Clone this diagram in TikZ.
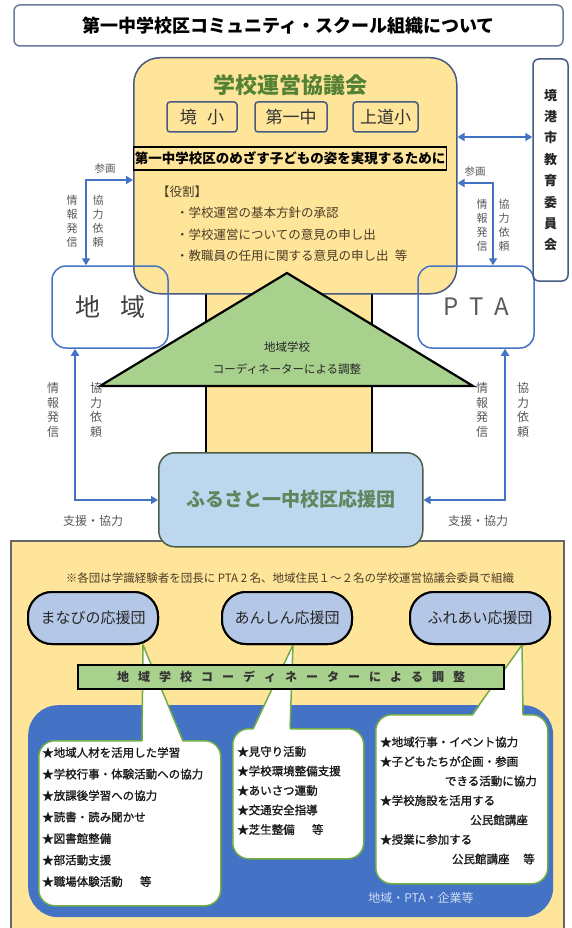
\documentclass[tikz,border=0pt]{standalone}
\usepackage{fontspec}
\setmainfont{Noto Sans CJK JP}
\newfontfamily\semib[FakeBold=1.2]{Noto Sans CJK JP}
\usetikzlibrary{arrows.meta,calc}
\definecolor{yel}{RGB}{255,229,153}
\definecolor{blueA}{RGB}{68,114,196}
\definecolor{frameC}{RGB}{70,90,130}
\definecolor{triG}{RGB}{169,209,142}
\definecolor{ltblue}{RGB}{189,215,238}
\definecolor{pillC}{RGB}{180,199,231}
\definecolor{bubG}{RGB}{112,173,71}
\definecolor{titleG}{RGB}{84,130,53}
\definecolor{ouenT}{RGB}{95,135,95}
\definecolor{ouenB}{RGB}{75,95,70}
\definecolor{brownT}{RGB}{75,60,40}
\definecolor{grayT}{RGB}{90,90,90}
\definecolor{paleT}{RGB}{205,220,245}
\newcommand{\fsz}[2]{\fontsize{#1}{#2}\selectfont}
\newcommand{\gsp}{\hspace{9pt}}
\begin{document}
\begin{tikzpicture}[x=1pt,y=-1pt,
  arr/.style={draw=blueA,line width=2.2pt,{Triangle[length=7pt,width=8pt]}-{Triangle[length=7pt,width=8pt]}},
  lbl/.style={text=grayT,font=\fsz{10.5}{13},inner sep=0pt},
  vlbl/.style={text=grayT,font=\fsz{11}{14},align=center,inner sep=0pt},
  vlblb/.style={text=grayT,font=\fsz{12}{14.5},align=center,inner sep=0pt},
  smallbox/.style={draw=frameC,line width=1.5pt,rounded corners=3pt,minimum height=30pt,font=\fsz{17}{18},text=black!80},
  bubble/.style={draw=bubG,line width=1.5pt,fill=white,rounded corners=16pt},
  pill/.style={draw=black,line width=2pt,fill=pillC,rounded corners=24pt,minimum height=52pt,font=\fsz{15}{16},text=black!85},
  btxt/.style={font=\semib\fsz{11.5}{21.5},align=left,inner sep=0pt,text=black!90},
  bline/.style={font=\semib\fsz{11.5}{13},inner sep=0pt,text=black!90},
  role/.style={anchor=west,font=\fsz{12.5}{14},text=brownT,inner sep=0pt}
]
\useasboundingbox (0,0) rectangle (571,928);
\fill[white] (0,0) rectangle (571,928);

% title
\node[draw=frameC!80,line width=1.5pt,rounded corners=6pt,minimum width=549pt,minimum height=41pt,font=\fsz{18}{20}\bfseries] (title) at (288.5,25.5) {第一中学校区コミュニティ・スクール組織について};

% lower yellow region
\node[fill=yel,draw=black!60,line width=1.5pt,minimum width=553pt,minimum height=395pt,anchor=north west] (lower) at (10,540) {};

% column behind triangle
\node[fill=yel,minimum width=166pt,minimum height=162pt,inner sep=0pt,anchor=north] (col) at (289,291) {};
\draw[line width=1.5pt] (col.north west) -- (col.south west);
\draw[line width=1.5pt] (col.north east) -- (col.south east);

% council
\node[draw=frameC,line width=1.5pt,fill=yel,rounded corners=26pt,minimum width=323pt,minimum height=236pt,anchor=north west] (council) at (133,57) {};
\node[text=titleG,font=\fsz{22}{24}\bfseries] (kyogikai) at (290,85) {学校運営協議会};
\node[smallbox,minimum width=70pt] (sakai) at (202,117) {境\hspace{0.6em}小};
\node[smallbox,minimum width=72pt] (daiichi) at (291,117) {第一中};
\node[smallbox,minimum width=65pt] (agari) at (385.5,117) {上道小};
\node[draw=black,line width=1.2pt,minimum width=313pt,minimum height=23pt,inner sep=1pt,anchor=west,font=\fsz{13.5}{15}\bfseries] (strip) at (133,158.5) {第一中学校区のめざす子どもの姿を実現するために};
\node[role] (yaku) at (157,192) {【役割】};
\node[role] (r1) at (176,213) {・学校運営の基本方針の承認};
\node[role] (r2) at (176,235) {・学校運営についての意見の申し出};
\node[role] (r3) at (176,256) {・教職員の任用に関する意見の申し出\hspace{0.5em}等};

% side boxes
\node[draw=blueA,line width=1.5pt,rounded corners=14pt,minimum width=116pt,minimum height=82pt,font=\fsz{25}{26},text=black!75] (chiiki) at (110,307) {地\hspace{0.8em}域};
\node[draw=blueA,line width=1.5pt,rounded corners=14pt,minimum width=116pt,minimum height=82pt,font=\fsz{24}{26},text=black!65] (pta) at (476,307) {P\hspace{0.45em}T\hspace{0.45em}A};
\node[draw=frameC,line width=1.5pt,rounded corners=6pt,minimum width=35pt,minimum height=222pt,font=\fsz{13}{21.4}\bfseries,align=center,text=black!85] (board) at (550.5,170) {境\\港\\市\\教\\育\\委\\員\\会};

% triangle
\coordinate (tA) at (287,273);
\coordinate (tL) at (100,386);
\coordinate (tR) at (473,386);
\draw[fill=triG,line width=2.2pt] (tA) -- (tL) -- (tR) -- cycle;
\node[font=\fsz{11.5}{13},text=black!85] (tri1) at (287,347) {地域学校};
\node[font=\fsz{11.5}{13},text=black!85] (tri2) at (287,369) {コーディネーターによる調整};

% ouen box
\node[draw=ouenB,line width=1.5pt,fill=ltblue,rounded corners=16pt,minimum width=264pt,minimum height=94pt,anchor=north west,text=ouenT,font=\fsz{19}{20}\bfseries] (ouen) at (158,452) {ふるさと一中校区応援団};

% arrows upper
\coordinate (ul) at (86,180);
\draw[arr] (ul |- chiiki.north) -- (ul) -- (council.west |- ul);
\coordinate (ur) at (493,183);
\draw[arr] (ur |- pta.north) -- (ur) -- (council.east |- ur);
\draw[arr] (council.east |- 0,137) -- (board.west |- 0,137);
\node[lbl] (sankaL) at (105,169) {参画};
\node[vlbl] (jhL1) at (72,221) {情\\報\\発\\信};
\node[vlbl] (kyL1) at (98,221) {協\\力\\依\\頼};
\node[lbl] (sankaR) at (475,172) {参画};
\node[vlbl] (jhR1) at (482,225) {情\\報\\発\\信};
\node[vlbl] (kyR1) at (504,225) {協\\力\\依\\頼};

% arrows lower
\coordinate (ll) at (75,500);
\draw[arr] (ll |- chiiki.south) -- (ll) -- (ouen.west |- ll);
\coordinate (lr) at (505,500);
\draw[arr] (lr |- pta.south) -- (lr) -- (ouen.east |- lr);
\node[vlblb] (jhL2) at (53,410) {情\\報\\発\\信};
\node[vlblb] (kyL2) at (96,410) {協\\力\\依\\頼};
\node[vlblb] (jhR2) at (482,410) {情\\報\\発\\信};
\node[vlblb] (kyR2) at (523,410) {協\\力\\依\\頼};
\node[font=\fsz{12}{13},text=grayT] (sienL) at (93,521) {支援・協力};
\node[font=\fsz{12}{13},text=grayT] (sienR) at (478,521) {支援・協力};

% note
\node[font=\fsz{11.5}{12},text=brownT] (note) at (290,578) {※各団は学識経験者を団長に PTA 2 名、地域住民１～２名の学校運営協議会委員で組織};

% blue region
\node[fill=blueA,rounded corners=30pt,minimum width=525pt,minimum height=212pt,anchor=north west] (blue) at (28,705) {};
\node[font=\fsz{12}{13},text=paleT] (blueT) at (421,898) {地域・PTA・企業等};

% bubbles
\node[bubble,minimum width=182pt,minimum height=165pt,anchor=north west] (b1) at (38,740) {};
\node[bubble,minimum width=131pt,minimum height=130pt,anchor=north west] (b2) at (232,728) {};
\node[bubble,minimum width=172pt,minimum height=169pt,anchor=north west] (b3) at (375,714) {};

% pills (positions needed for pointers)
\path (93,618) coordinate (mc) (287,618) coordinate (ac) (480,618) coordinate (fc);
\node[pill,minimum width=130pt] (manabi) at (mc) {まなびの応援団};
\node[pill,minimum width=130pt] (anshin) at (ac) {あんしん応援団};
\node[pill,minimum width=140pt] (fureai) at (fc) {ふれあい応援団};

% pointers
\coordinate (t1) at ($(manabi.south)+(50,0)$);
\coordinate (t2) at ($(anshin.south)+(6,0)$);
\coordinate (t3) at ($(fureai.south)+(42,0)$);
\fill[white] (t1) -- ($(b1.north west)+(104,3)$) -- ($(b1.north west)+(145,3)$) -- cycle;
\draw[bubG,line width=1.5pt] ($(b1.north west)+(104,0.75)$) -- (t1) -- ($(b1.north west)+(145,0.75)$);
\fill[white] (t2) -- ($(b2.north west)+(21,3)$) -- ($(b2.north west)+(58,3)$) -- cycle;
\draw[bubG,line width=1.5pt] ($(b2.north west)+(21,0.75)$) -- (t2) -- ($(b2.north west)+(58,0.75)$);
\fill[white] (t3) -- ($(b3.north west)+(97,3)$) -- ($(b3.north west)+(148,3)$) -- cycle;
\draw[bubG,line width=1.5pt] ($(b3.north west)+(97,0.75)$) -- (t3) -- ($(b3.north west)+(148,0.75)$);

% redraw pills on top of pointers
\node[pill,minimum width=130pt] at (mc) {まなびの応援団};
\node[pill,minimum width=130pt] at (ac) {あんしん応援団};
\node[pill,minimum width=140pt] at (fc) {ふれあい応援団};

% coordinator bar
\node[draw=black,line width=1.5pt,fill=triG,minimum width=426pt,minimum height=24pt,inner sep=0pt,font=\fsz{12}{13}\bfseries,text=black!80] (bar) at (291,677) {地\gsp 域\gsp 学\gsp 校\gsp コ\gsp ー\gsp デ\gsp ィ\gsp ネ\gsp ー\gsp タ\gsp ー\gsp に\gsp よ\gsp る\gsp 調\gsp 整};

% bubble texts
\node[btxt,anchor=north west] (b1t) at (42,747) {★地域人材を活用した学習\\★学校行事・体験活動への協力\\★放課後学習への協力\\★読書・読み聞かせ\\★図書館整備\\★部活動支援\\★職場体験活動\hspace{1.5em}等};
\node[btxt,anchor=north west,font=\semib\fsz{11.5}{19.5}] (b2t) at (237,746) {★見守り活動\\★学校環境整備支援\\★あいさつ運動\\★交通安全指導\\★芝生整備\hspace{1.5em}等};
\node[bline,anchor=west] (b3l1) at (380,742) {★地域行事・イベント協力};
\node[bline,anchor=west] (b3l2) at (380,761.5) {★子どもたちが企画・参画};
\node[bline,anchor=east] (b3l3) at (537,781) {できる活動に協力};
\node[bline,anchor=west] (b3l4) at (380,800.5) {★学校施設を活用する};
\node[bline,anchor=east] (b3l5) at (528,820) {公民館講座};
\node[bline,anchor=west] (b3l6) at (380,839.5) {★授業に参加する};
\node[bline,anchor=east] (b3l7) at (535,859) {公民館講座\hspace{1.2em}等};
\end{tikzpicture}
\end{document}
